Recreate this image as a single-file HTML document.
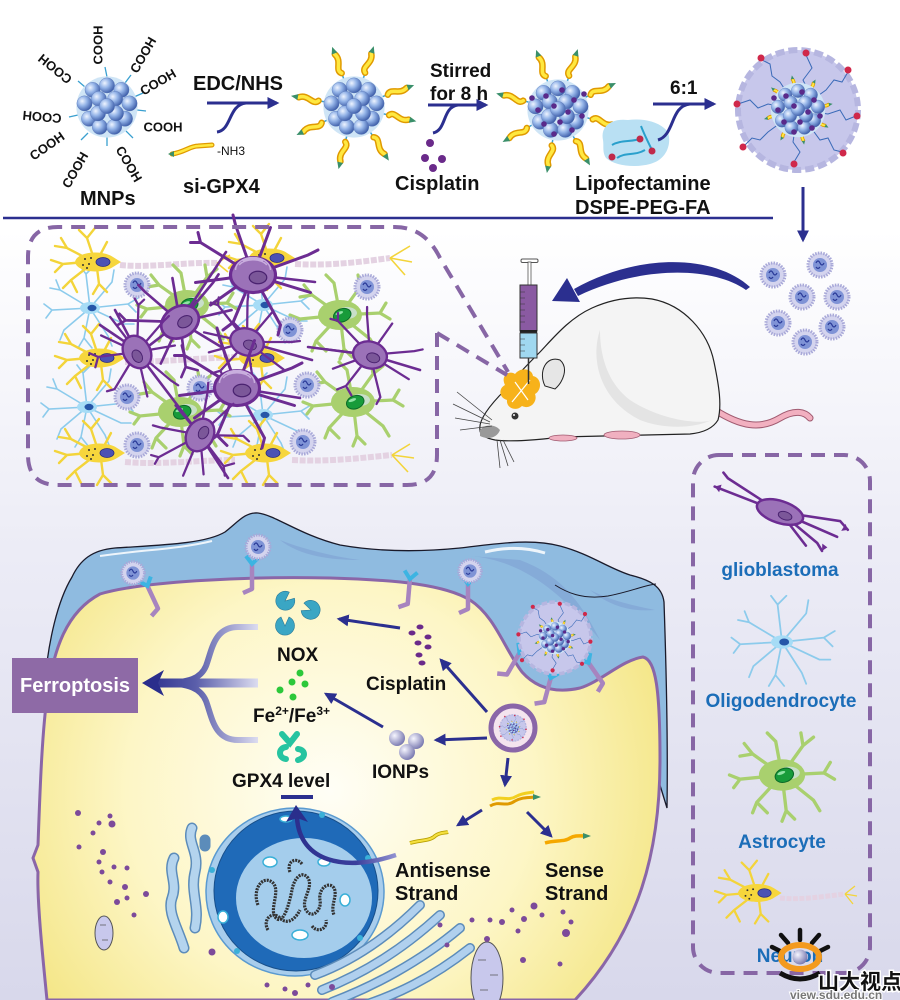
<!DOCTYPE html>
<html><head><meta charset="utf-8"><style>
html,body{margin:0;padding:0;background:#fff}
svg{display:block}
text{font-family:"Liberation Sans",Arial,sans-serif;font-weight:bold}
</style></head><body>
<svg width="900" height="1000" viewBox="0 0 900 1000" xmlns="http://www.w3.org/2000/svg" xmlns:xlink="http://www.w3.org/1999/xlink">
<defs>
 <linearGradient id="bg" x1="0" y1="0" x2="0" y2="1">
  <stop offset="0" stop-color="#fff"/><stop offset=".23" stop-color="#fff"/><stop offset=".55" stop-color="#ececf6"/><stop offset="1" stop-color="#d8d8eb"/>
 </linearGradient>
 <radialGradient id="sph" cx=".35" cy=".35" r=".7"><stop offset="0" stop-color="#eef4ff"/><stop offset=".45" stop-color="#94b4e8"/><stop offset="1" stop-color="#3a5aa6"/></radialGradient>
 <radialGradient id="cyto" cx="330" cy="790" r="370" gradientUnits="userSpaceOnUse"><stop offset="0" stop-color="#fffef6"/><stop offset=".55" stop-color="#fdf6c6"/><stop offset="1" stop-color="#f3e47f"/></radialGradient>
 <radialGradient id="ion" cx=".35" cy=".35" r=".7"><stop offset="0" stop-color="#f6f6ff"/><stop offset="1" stop-color="#7676ae"/></radialGradient>
 <linearGradient id="fork" x1="145" y1="0" x2="258" y2="0" gradientUnits="userSpaceOnUse"><stop offset="0" stop-color="#2a2e8c"/><stop offset=".45" stop-color="#5a5eaa"/><stop offset="1" stop-color="#dcdcf0"/></linearGradient>
 <linearGradient id="curv" x1="400" y1="0" x2="290" y2="0" gradientUnits="userSpaceOnUse"><stop offset="0" stop-color="#9a9ad6"/><stop offset=".4" stop-color="#3a3e9c"/><stop offset="1" stop-color="#2a2e8c"/></linearGradient>
 <marker id="ah" viewBox="0 0 10 10" refX="8" refY="5" markerWidth="4" markerHeight="4" orient="auto"><path d="M0 0 L10 5 L0 10 z" fill="#2b2f8f"/></marker>

 <g id="core">
  <circle r="34" fill="#cfe5f6"/>
  <g fill="url(#sph)" stroke="#5a78b8" stroke-width=".4">
   <circle cx="-16" cy="-19" r="8.5"/><circle cx="0" cy="-24" r="8.5"/><circle cx="16" cy="-19" r="8.5"/>
   <circle cx="-25" cy="-4" r="8.5"/><circle cx="25" cy="-4" r="8.5"/>
   <circle cx="-20" cy="13" r="8.5"/><circle cx="20" cy="13" r="8.5"/>
   <circle cx="-8" cy="22" r="8.5"/><circle cx="8" cy="22" r="8.5"/>
   <circle cx="-9" cy="-9" r="8.5"/><circle cx="9" cy="-9" r="8.5"/>
   <circle cx="-10" cy="7" r="8.5"/><circle cx="10" cy="7" r="8.5"/><circle cx="0" cy="-1" r="8.5"/>
  </g>
 </g>
 <g id="tail">
  <path d="M28 0 L36 0" stroke="#3a9fd0" stroke-width="1.5"/>
  <path d="M36 0 C41 -6 47 5 56 0" stroke="#e09a00" stroke-width="6.5" fill="none" stroke-linecap="round"/>
  <path d="M36 0 C41 -6 47 5 56 0" stroke="#ffe840" stroke-width="3.5" fill="none" stroke-linecap="round"/>
  <path d="M57 -3 L64 0 L57 3 Z" fill="#3a8f6a"/>
 </g>
 <g id="np">
  <circle r="12" fill="#d4d4ee" stroke="#a8a8d8" stroke-width="3" stroke-dasharray="1.5 1.2"/>
  <circle r="7" fill="#7f93d6"/>
  <path d="M-4 -2 q2 -4 4 0 q2 4 4 0 M-4 2 q2 3 4 0" stroke="#2a3a98" stroke-width="1.2" fill="none"/>
 </g>
 <g id="neu">
  <g stroke="#f3d43a" stroke-width="2.4" fill="none" stroke-linecap="round">
   <path d="M-5 -3 L-26 -14 L-38 -16 M-26 -14 L-32 -24 M-8 0 L-30 2 L-42 -2 M-30 2 L-38 10 M-4 4 L-22 18 L-30 26 M-22 18 L-16 30 M0 -6 L-6 -24 L-14 -32 M-6 -24 L2 -34 M4 6 L6 22 L0 32 M6 22 L14 30 M6 -5 L14 -20"/>
  </g>
  <path d="M-18 0 C-16 -11 10 -12 20 -5 L28 0 L20 5 C10 12 -16 11 -18 0 Z" fill="#f6d63c"/>
  <ellipse cx="10" cy="0" rx="7" ry="4.5" fill="#4b52b4" stroke="#262a80" stroke-width=".8"/>
  <g fill="#333"><circle cx="-8" cy="-3" r="1"/><circle cx="-4" cy="2" r="1"/><circle cx="-10" cy="3" r="1"/><circle cx="-2" cy="-4" r="1"/><circle cx="-6" cy="6" r="1"/></g>
 </g>
 <g id="oli">
  <g stroke="#8ccbec" stroke-width="1.6" fill="none" stroke-linecap="round">
   <path d="M0 0 L-30 -18 L-40 -20 M-30 -18 L-34 -28 M0 0 L-38 2 L-46 -4 M-38 2 L-44 10 M0 0 L-26 22 L-30 32 M0 0 L-6 30 L-12 40 M-6 30 L2 40 M0 0 L18 28 L22 38 M0 0 L34 16 L44 16 M0 0 L38 -4 L48 -10 M38 -4 L46 4 M0 0 L22 -26 L24 -38 M0 0 L-4 -34 L-10 -42 M-4 -34 L4 -42"/>
  </g>
  <ellipse rx="10" ry="6" fill="#a6dcf6"/><ellipse cx="2" rx="4.5" ry="3.2" fill="#2656a8"/>
 </g>
 <g id="ast">
  <g stroke="#a9d06e" stroke-width="3.2" fill="none" stroke-linecap="round">
   <path d="M0 0 L-28 -20 L-36 -30 M-28 -20 L-40 -18 M0 0 L-40 4 L-50 0 M-40 4 L-46 12 M0 0 L-24 26 L-28 36 M-24 26 L-14 36 M0 0 L4 34 L0 44 M4 34 L12 42 M0 0 L30 24 L36 34 M0 0 L40 -2 L50 4 M40 -2 L46 -12 M0 0 L20 -28 L18 -40 M20 -28 L30 -36 M0 0 L-6 -32 L-14 -40"/>
  </g>
  <ellipse rx="22" ry="15" fill="#a9d06e"/>
  <ellipse cx="7" cy="-2" rx="10" ry="6" fill="#d6e6f0" opacity=".7"/>
  <ellipse cx="2" cy="1" rx="9" ry="6.5" fill="#179b3a" stroke="#0b6a28" stroke-width="1" transform="rotate(-20)"/>
  <ellipse cx="0" cy="-2" rx="4" ry="1.5" fill="#8fe2a4" transform="rotate(-20)"/>
 </g>
 <g id="gli">
  <g stroke="#6c2c92" stroke-width="2.4" fill="none" stroke-linecap="round">
   <path d="M0 0 L-42 -26 M-42 -26 L-50 -26 M-42 -26 L-44 -34 M0 0 L-46 6 M0 0 L-14 -40 L-16 -48 M0 0 L14 -38 M0 0 L44 -16 L52 -20 M0 0 L46 14 M0 0 L22 40 L20 48 M0 0 L-16 38 M-16 38 L-24 44 M-16 38 L-8 46 M0 0 L-34 24"/>
  </g>
  <ellipse rx="18" ry="14" fill="#9b72b8" stroke="#6c2c92" stroke-width="2.5"/>
  <ellipse cx="4" cy="2" rx="7" ry="5" fill="#7b5799" stroke="#4a2270"/>
 </g>
 <g id="rings" fill="none" stroke="#c9aede" stroke-width="1.2">
  <path d="M-14 -4 A14 10 0 0 1 14 -4 M-11 -8 A12 7 0 0 1 11 -8 M-8 -11 A9 4 0 0 1 8 -11"/>
 </g>
 <g id="rec">
  <path d="M0 0 L0 26 L-9 30" stroke="#a784bf" stroke-width="4.5" fill="none" stroke-linejoin="round"/>
  <path d="M-6 -7 L0 1 L7 -6" stroke="#3cb4e2" stroke-width="4" fill="none"/>
 </g>
 <g id="bignp">
  <circle r="60" fill="#c7c7eb" stroke="#b6b6e0" stroke-width="6" stroke-dasharray="9 4"/>
  <g stroke="#3a6ab8" stroke-width="1" fill="none">
   <path d="M0 0 L10 -20 L5 -30 L14 -42 L8 -55 M0 0 L28 -20 L36 -30 L44 -28 L50 -38 M0 0 L30 4 L42 0 L48 10 L58 6 M0 0 L22 30 L30 28 L36 40 L44 42 M0 0 L-5 32 L2 42 L-4 52 M0 0 L-30 22 L-38 30 L-46 28 L-54 36 M0 0 L-30 -6 L-40 -2 L-48 -10 L-60 -6 M0 0 L-18 -28 L-26 -34 L-28 -46 L-36 -50"/>
  </g>
  <g fill="#d0284a"><circle cx="8" cy="-57" r="3.5"/><circle cx="50" cy="-40" r="3.5"/><circle cx="59" cy="6" r="3.5"/><circle cx="45" cy="43" r="3.5"/><circle cx="-4" cy="54" r="3.5"/><circle cx="-55" cy="37" r="3.5"/><circle cx="-61" cy="-6" r="3.5"/><circle cx="-37" cy="-52" r="3.5"/></g>
  <g transform="scale(.55)"><g transform="rotate(-60)"><use xlink:href="#tail"/></g><g transform="rotate(-10)"><use xlink:href="#tail"/></g><g transform="rotate(30)"><use xlink:href="#tail"/></g><g transform="rotate(80)"><use xlink:href="#tail"/></g><g transform="rotate(120)"><use xlink:href="#tail"/></g><g transform="rotate(165)"><use xlink:href="#tail"/></g><g transform="rotate(-140)"><use xlink:href="#tail"/></g><g transform="rotate(-100)"><use xlink:href="#tail"/></g></g>
  <g transform="scale(.8)"><use xlink:href="#core"/></g>
  <g fill="#5a2a8a"><circle cx="-12" cy="-14" r="2.8"/><circle cx="4" cy="-18" r="2.8"/><circle cx="16" cy="-10" r="2.8"/><circle cx="-20" cy="0" r="2.8"/><circle cx="-4" cy="-4" r="2.8"/><circle cx="10" cy="2" r="2.8"/><circle cx="22" cy="6" r="2.8"/><circle cx="-14" cy="12" r="2.8"/><circle cx="2" cy="12" r="2.8"/><circle cx="14" cy="18" r="2.8"/><circle cx="-4" cy="22" r="2.8"/><circle cx="-24" cy="-12" r="2.8"/></g>
 </g>
</defs>

<rect width="900" height="1000" fill="url(#bg)"/>

<!-- ============ TOP ROW ============ -->
<g stroke="#3aa0d0" stroke-width="1.3" fill="none">
 <path d="M107 77 l-2 -10 M125 83 l6 -8 M134 97 l9 -4 M137 110 l9 1 M126 131 l7 7 M107 137 l0 9 M88 133 l-7 7 M78 115 l-9 2 M85 87 l-7 -6"/>
</g>
<use xlink:href="#core" transform="translate(107,107) scale(.9)"/>
<g font-size="13" fill="#111" text-anchor="middle">
 <text transform="translate(98,45) rotate(-90)" dy=".35em">COOH</text>
 <text transform="translate(143,55) rotate(-60)" dy=".35em">COOH</text>
 <text transform="translate(158,82) rotate(-30)" dy=".35em">COOH</text>
 <text transform="translate(163,127)" dy=".35em">COOH</text>
 <text transform="translate(129,164) rotate(60)" dy=".35em">COOH</text>
 <text transform="translate(75,170) rotate(-60)" dy=".35em">COOH</text>
 <text transform="translate(47,146) rotate(-35)" dy=".35em">COOH</text>
 <text transform="translate(42,117) rotate(185)" dy=".35em">COOH</text>
 <text transform="translate(55,69) rotate(-141)" dy=".35em">COOH</text>
</g>
<text x="80" y="205" font-size="20" fill="#111">MNPs</text>

<text x="193" y="90" font-size="20" fill="#111">EDC/NHS</text>
<path d="M207 103 L277 103" stroke="#2b2f8f" stroke-width="3" marker-end="url(#ah)"/>
<path d="M217 132 C232 130 228 105 246 103" stroke="#2b2f8f" stroke-width="3" fill="none"/>
<path d="M172 154 C185 152 190 146 198 146 L212 145" stroke="#e09a00" stroke-width="5" fill="none" stroke-linecap="round"/>
<path d="M172 154 C185 152 190 146 198 146 L212 145" stroke="#ffe840" stroke-width="2.6" fill="none" stroke-linecap="round"/>
<path d="M168 154 l6 -3 l0 6z" fill="#3a8f6a"/>
<text x="217" y="155" font-size="12" fill="#111" style="font-weight:normal">-NH3</text>
<text x="183" y="193" font-size="20" fill="#111">si-GPX4</text>

<g transform="translate(354,107)">
 <use xlink:href="#tail" transform="rotate(-110)"/><use xlink:href="#tail" transform="rotate(-72)"/><use xlink:href="#tail" transform="rotate(-20)"/><use xlink:href="#tail" transform="rotate(13)"/><use xlink:href="#tail" transform="rotate(57)"/><use xlink:href="#tail" transform="rotate(104)"/><use xlink:href="#tail" transform="rotate(154)"/><use xlink:href="#tail" transform="rotate(-170)"/>
 <use xlink:href="#core" transform="scale(.9)"/>
</g>

<text x="430" y="77" font-size="19" fill="#111">Stirred</text>
<text x="430" y="100" font-size="19" fill="#111">for 8 h</text>
<path d="M428 105 L486 105" stroke="#2b2f8f" stroke-width="3" marker-end="url(#ah)"/>
<path d="M433 133 C447 130 442 107 458 105" stroke="#2b2f8f" stroke-width="3" fill="none"/>
<g fill="#6a2a8a"><circle cx="430" cy="143" r="4"/><circle cx="425" cy="158" r="4"/><circle cx="442" cy="159" r="4"/><circle cx="433" cy="168" r="4"/></g>
<text x="395" y="190" font-size="20" fill="#111">Cisplatin</text>

<g transform="translate(558,110)">
 <use xlink:href="#tail" transform="rotate(-110)"/><use xlink:href="#tail" transform="rotate(-72)"/><use xlink:href="#tail" transform="rotate(-25)"/><use xlink:href="#tail" transform="rotate(15)"/><use xlink:href="#tail" transform="rotate(60)"/><use xlink:href="#tail" transform="rotate(100)"/><use xlink:href="#tail" transform="rotate(150)"/><use xlink:href="#tail" transform="rotate(-165)"/>
 <use xlink:href="#core" transform="scale(.9)"/>
 <g fill="#5a2a8a"><circle cx="-12" cy="-14" r="2.8"/><circle cx="4" cy="-20" r="2.8"/><circle cx="16" cy="-10" r="2.8"/><circle cx="-20" cy="0" r="2.8"/><circle cx="-4" cy="-4" r="2.8"/><circle cx="10" cy="2" r="2.8"/><circle cx="24" cy="6" r="2.8"/><circle cx="-14" cy="14" r="2.8"/><circle cx="2" cy="12" r="2.8"/><circle cx="14" cy="20" r="2.8"/><circle cx="-4" cy="24" r="2.8"/><circle cx="-26" cy="-12" r="2.8"/><circle cx="26" cy="-16" r="2.8"/></g>
</g>

<path d="M603 140 C600 126 612 118 628 120 C645 118 660 122 668 132 C672 145 666 160 650 164 C635 168 615 166 606 158 C602 152 604 146 603 140 Z" fill="#b9e0f3"/>
<g stroke="#2aa0cc" stroke-width="2" fill="none"><path d="M612 145 C620 140 630 142 640 139 M617 158 C625 152 635 156 645 150 M641 126 C644 134 648 142 652 150"/></g>
<g fill="#c02a4a"><circle cx="640" cy="139" r="3.5"/><circle cx="612" cy="157" r="3.5"/><circle cx="652" cy="151" r="3.5"/></g>
<text x="670" y="94" font-size="19" fill="#111">6:1</text>
<path d="M653 104 L714 104" stroke="#2b2f8f" stroke-width="3" marker-end="url(#ah)"/>
<path d="M658 140 C675 135 670 106 690 104" stroke="#2b2f8f" stroke-width="3" fill="none"/>
<text x="575" y="190" font-size="20" fill="#111">Lipofectamine</text>
<text x="575" y="214" font-size="20" fill="#111">DSPE-PEG-FA</text>

<use xlink:href="#bignp" transform="translate(798,110)"/>

<path d="M3 218 L773 218" stroke="#2b2f8f" stroke-width="2.5"/>
<path d="M803 187 L803 240" stroke="#2b2f8f" stroke-width="3" marker-end="url(#ah)"/>

<!-- ============ MIDDLE ============ -->
<use xlink:href="#np" transform="translate(773,275)"/><use xlink:href="#np" transform="translate(820,265)"/><use xlink:href="#np" transform="translate(802,297)"/><use xlink:href="#np" transform="translate(837,297)"/><use xlink:href="#np" transform="translate(778,323)"/><use xlink:href="#np" transform="translate(832,327)"/><use xlink:href="#np" transform="translate(805,342)"/>

<path d="M750 287 C715 255 640 252 574 289 L578 296 C640 266 712 266 746 290 Z" fill="#2b2f8f"/>
<path d="M552 301 L567 278 L580 302 Z" fill="#2b2f8f"/>

<!-- mouse -->
<path d="M715 410 C740 426 760 430 780 418 C795 409 805 412 810 418" stroke="#a05a70" stroke-width="7" fill="none" stroke-linecap="round"/>
<path d="M715 410 C740 426 760 430 780 418 C795 409 805 412 810 418" stroke="#f2b0c0" stroke-width="5" fill="none" stroke-linecap="round"/>
<path d="M480 430 C478 420 490 405 505 390 C515 377 528 364 540 352 C555 336 570 318 592 308 C612 299 632 296 652 299 C684 305 708 332 714 362 C719 386 722 405 718 420 C712 430 700 433 690 434 L560 437 C540 440 510 442 495 440 C485 438 480 435 480 430 Z" fill="#f4f4f4" stroke="#222" stroke-width="1.2"/>
<path d="M600 330 C590 360 600 400 640 420 C660 428 690 430 712 420 C700 425 660 420 630 400 C610 385 600 360 600 330 Z" fill="#e4e4e4"/>
<path d="M480 430 C485 424 495 424 500 430 C497 438 488 440 480 436 Z" fill="#999"/>
<circle cx="515" cy="416" r="3.5" fill="#333"/><circle cx="514" cy="415" r="1" fill="#fff"/>
<path d="M545 386 C538 372 546 355 560 360 C569 368 563 382 555 389 Z" fill="#e6e6e6" stroke="#222" stroke-width="1"/>
<ellipse cx="622" cy="435" rx="18" ry="4" fill="#f0b0c0" stroke="#a05a70" stroke-width=".8"/>
<ellipse cx="563" cy="438" rx="14" ry="3" fill="#f0b0c0" stroke="#a05a70" stroke-width=".8"/>
<g stroke="#444" stroke-width=".8" fill="none"><path d="M492 420 L457 392 M490 422 L453 404 M490 424 L455 418 M492 426 L460 430 M497 440 L500 468 M500 440 L508 466 M503 440 L514 462"/></g>
<path d="M505 385 C500 375 510 370 515 374 C520 367 532 368 533 376 C542 378 542 390 535 394 C538 402 530 410 522 406 C516 412 506 408 507 400 C498 397 499 388 505 385 Z" fill="#f7b21a"/>
<path d="M512 402 L530 380 M515 382 L528 400" stroke="#fff" stroke-width="1.2"/>
<rect x="521" y="259" width="17" height="3.5" rx="1.5" fill="#fff" stroke="#555"/>
<rect x="528" y="262" width="3" height="24" fill="#fff" stroke="#555" stroke-width=".8"/>
<rect x="520" y="285" width="17" height="46" fill="#8a5aa2" stroke="#333"/>
<rect x="520" y="330" width="17" height="3" fill="#222"/>
<rect x="520" y="333" width="17" height="25" fill="#a0d8f0" stroke="#333"/>
<g stroke="#333" stroke-width=".6"><path d="M520 292 h5 M520 298 h5 M520 304 h5 M520 310 h5 M520 316 h5 M520 322 h5 M520 339 h5 M520 345 h5 M520 351 h5"/></g>
<path d="M528.5 358 L528.5 384" stroke="#333" stroke-width="1.5"/>

<!-- dashed box with cells -->
<g>
 <g stroke="#e4d2e2" stroke-width="6" stroke-dasharray="6 1.6" fill="none">
  <path d="M120 265 C150 268 185 262 217 263"/>
  <path d="M295 264 C330 266 360 262 390 258"/>
  <path d="M125 362 C160 362 200 358 240 357"/>
  <path d="M125 462 C160 465 200 460 235 460"/>
  <path d="M292 460 C330 462 360 458 392 455"/>
 </g>
 <g stroke="#f3d43a" stroke-width="1.6" fill="none"><path d="M390 258 L410 246 M390 258 L412 262 M390 258 L405 275 M392 455 L410 444 M392 455 L414 458 M392 455 L408 472 M217 263 L230 255 M217 263 L228 272"/></g>
 <use xlink:href="#oli" transform="translate(90,308)"/>
 <use xlink:href="#oli" transform="translate(87,407)"/>
 <use xlink:href="#oli" transform="translate(263,305)"/>
 <use xlink:href="#oli" transform="translate(263,415)"/>
 <use xlink:href="#ast" transform="translate(187,305)"/>
 <use xlink:href="#ast" transform="translate(340,315)"/>
 <use xlink:href="#ast" transform="translate(353,402)"/>
 <use xlink:href="#ast" transform="translate(180,412)"/>
 <use xlink:href="#neu" transform="translate(93,262)"/>
 <use xlink:href="#neu" transform="translate(97,358)"/>
 <use xlink:href="#neu" transform="translate(97,453)"/>
 <use xlink:href="#neu" transform="translate(267,258)"/>
 <use xlink:href="#neu" transform="translate(257,358)"/>
 <use xlink:href="#neu" transform="translate(263,453)"/>
 <use xlink:href="#np" transform="translate(137,285)"/><use xlink:href="#np" transform="translate(367,287)"/><use xlink:href="#np" transform="translate(290,330)"/><use xlink:href="#np" transform="translate(127,397)"/><use xlink:href="#np" transform="translate(200,388)"/><use xlink:href="#np" transform="translate(307,385)"/><use xlink:href="#np" transform="translate(137,445)"/><use xlink:href="#np" transform="translate(303,442)"/>
 <g stroke="#6c2c92" stroke-width="2.6" fill="none" stroke-linecap="round">
  <path d="M137 352 L200 435 M180 322 L226 252 M247 342 L312 360 M370 355 L308 347 M370 355 L420 370 M137 352 L115 310 M200 435 L228 478 M237 388 L300 398 M253 275 L315 282 M140 352 L100 325"/>
 </g>
 <use xlink:href="#gli" transform="translate(180,322) rotate(-30) scale(1.1)"/>
 <use xlink:href="#gli" transform="translate(137,352) rotate(60) scale(.95)"/>
 <use xlink:href="#gli" transform="translate(253,275) scale(1.25)"/><use xlink:href="#rings" transform="translate(253,275) scale(1.25)"/>
 <use xlink:href="#gli" transform="translate(247,342) rotate(20) scale(.95)"/>
 <use xlink:href="#gli" transform="translate(237,388) scale(1.25)"/><use xlink:href="#rings" transform="translate(237,388) scale(1.25)"/>
 <use xlink:href="#gli" transform="translate(370,355) rotate(15) scale(.95)"/>
 <use xlink:href="#gli" transform="translate(200,435) rotate(-60) scale(.95)"/>
</g>
<g stroke="#8766a5" stroke-width="4" stroke-dasharray="14 9" fill="none">
 <path d="M437 333 L437 455 Q437 485 407 485 L58 485 Q28 485 28 455 L28 257 Q28 227 58 227 L395 227 Q425 227 440 258 L508 372"/>
 <path d="M437 333 L507 375"/>
 <rect x="693" y="455" width="177" height="518" rx="26"/>
</g>

<!-- ============ BOTTOM CELL ============ -->
<path d="M44 690 C48 640 58 600 72 577 C80 560 92 550 115 548 C160 545 205 544 225 532 C238 522 245 512 258 513 C275 515 300 535 340 545 C380 552 420 552 460 548 C495 544 530 538 560 546 C590 554 608 568 630 575 C650 580 662 586 664 602 C666 660 668 740 667 808 L640 720 L300 700 Z" fill="#8fbbe0" stroke="#1a1a2a" stroke-width="1.3"/>
<g fill="#7e9ed2" opacity=".55"><path d="M470 556 C520 560 560 590 600 640 C580 600 560 575 520 560 Z"/><path d="M280 540 C300 548 330 556 360 560 C330 560 300 556 280 540 Z"/><path d="M590 590 C610 600 630 605 655 610 C630 612 610 606 590 590 Z"/></g>
<path d="M100 556 C140 550 180 549 212 541" stroke="#fff" stroke-width="2" fill="none" opacity=".85"/>
<path d="M485 552 C505 547 525 547 545 553" stroke="#fff" stroke-width="3" fill="none" opacity=".85"/>
<path d="M555 585 C566 592 582 600 608 596 C630 592 645 585 656 584" stroke="#1a1a2a" stroke-width="1" fill="none"/>
<path d="M47 1000 C42 950 37 900 38 872 L33 858 L38 845 C40 790 42 730 48 690 C54 650 66 612 100 594 C140 582 240 576 330 578 C400 580 445 585 470 600 C495 616 505 650 522 672 C538 690 558 693 580 688 C602 681 622 660 643 657 C656 660 660 690 660 760 C660 850 640 930 575 1000 Z" fill="url(#cyto)" stroke="#8a66a8" stroke-width="3"/>

<use xlink:href="#rec" transform="translate(147,585) rotate(-25)"/>
<use xlink:href="#rec" transform="translate(252,563)"/>
<use xlink:href="#rec" transform="translate(410,578) rotate(5)"/>
<use xlink:href="#rec" transform="translate(468,583)"/>
<use xlink:href="#rec" transform="translate(520,652) rotate(30)"/>
<use xlink:href="#rec" transform="translate(551,677) rotate(15)"/>
<use xlink:href="#rec" transform="translate(588,662) rotate(-35)"/>
<use xlink:href="#np" transform="translate(133,573) scale(.95)"/>
<use xlink:href="#np" transform="translate(258,547)"/>
<use xlink:href="#np" transform="translate(470,571) scale(.95)"/>
<use xlink:href="#bignp" transform="translate(555,638) scale(.6)"/>

<circle cx="513" cy="728" r="22" fill="#f4e4ee" stroke="#8a66a8" stroke-width="5"/>
<use xlink:href="#bignp" transform="translate(513,728) scale(.22)"/>

<g fill="#3aa6c4" stroke="#2a7a98" stroke-width=".6">
 <path d="M285 601 L294 597 A9.5 9.5 0 1 0 294 605 Z" transform="rotate(-40 285 601)"/>
 <path d="M311 610 L320 606 A9.5 9.5 0 1 0 320 614 Z" transform="rotate(200 311 610)"/>
 <path d="M285 626 L294 622 A9.5 9.5 0 1 0 294 630 Z" transform="rotate(-90 285 626)"/>
</g>
<text x="277" y="661" font-size="19" fill="#111">NOX</text>
<g fill="#2cc83a"><circle cx="300" cy="673" r="3.5"/><circle cx="292" cy="682" r="3.5"/><circle cx="305" cy="684" r="3.5"/><circle cx="280" cy="690" r="3.5"/><circle cx="293" cy="697" r="3.5"/></g>
<text x="253" y="722" font-size="19" fill="#111">Fe<tspan font-size="12" dy="-7">2+</tspan><tspan dy="7">/Fe</tspan><tspan font-size="12" dy="-7">3+</tspan></text>
<g stroke="#26c4a0" stroke-width="6" fill="none" stroke-linecap="round">
 <path d="M282 734 L290 743 L297 734"/>
 <path d="M286 747 C278 748 278 758 286 759"/>
 <path d="M298 749 C306 750 306 758 298 760"/>
</g>
<text x="232" y="787" font-size="19" fill="#111">GPX4 level</text>
<path d="M281 797 L313 797" stroke="#2b2f8f" stroke-width="4"/>

<g stroke="url(#fork)" fill="none" stroke-linecap="butt">
 <path d="M258 627 L238 627 C214 627 212 650 206 666 C201 678 190 683 160 683" stroke-width="6"/>
 <path d="M258 740 L238 740 C214 740 212 717 206 701 C201 689 190 683 160 683" stroke-width="6"/>
 <path d="M258 683 L158 683" stroke-width="9"/>
</g>
<path d="M142 683 L164 670 L158 683 L164 696 Z" fill="#2a2e8c"/>
<rect x="12" y="658" width="126" height="55" fill="#8e6aa6"/>
<text x="75" y="692" font-size="20" fill="#fff" text-anchor="middle">Ferroptosis</text>

<g fill="#6a2a8a"><ellipse cx="420" cy="627" rx="3.5" ry="2.5"/><ellipse cx="412" cy="633" rx="3.5" ry="2.5"/><ellipse cx="428" cy="637" rx="3.5" ry="2.5"/><ellipse cx="418" cy="643" rx="3.5" ry="2.5"/><ellipse cx="428" cy="647" rx="3.5" ry="2.5"/><ellipse cx="419" cy="655" rx="3.5" ry="2.5"/><ellipse cx="422" cy="663" rx="3.5" ry="2.5"/></g>
<text x="366" y="690" font-size="19" fill="#111">Cisplatin</text>
<g fill="url(#ion)"><circle cx="397" cy="738" r="8"/><circle cx="416" cy="741" r="8"/><circle cx="407" cy="752" r="8"/></g>
<text x="372" y="778" font-size="19" fill="#111">IONPs</text>

<g stroke="#2b2f8f" stroke-width="3" fill="none" marker-end="url(#ah)">
 <path d="M400 628 L339 619"/>
 <path d="M487 712 L441 660"/>
 <path d="M383 727 L326 694"/>
 <path d="M487 738 L436 740"/>
 <path d="M508 758 L505 785"/>
 <path d="M482 810 L458 825"/>
 <path d="M527 812 L551 836"/>
</g>

<path d="M490 806 C500 800 505 808 515 801 C522 797 528 798 535 797" stroke="#e09a00" stroke-width="3" fill="none"/>
<path d="M492 800 C502 795 507 802 517 796 C522 793 528 793 534 792" stroke="#f2d020" stroke-width="3" fill="none"/>
<path d="M533 794 l8 3 l-8 3z" fill="#3a8f6a"/>
<path d="M410 843 C420 840 430 841 435 836 C440 832 445 833 448 832" stroke="#b8a000" stroke-width="4" fill="none"/>
<path d="M410 843 C420 840 430 841 435 836 C440 832 445 833 448 832" stroke="#f5e040" stroke-width="2.2" fill="none"/>
<path d="M545 843 C555 840 565 842 570 838 C575 835 580 836 585 836" stroke="#f5a800" stroke-width="3.5" fill="none"/>
<path d="M583 833 l8 3 l-8 3z" fill="#3a8f6a"/>
<text x="395" y="877" font-size="20" fill="#111">Antisense</text>
<text x="395" y="900" font-size="20" fill="#111">Strand</text>
<text x="545" y="877" font-size="20" fill="#111">Sense</text>
<text x="545" y="900" font-size="20" fill="#111">Strand</text>

<g fill="none" stroke-linecap="round">
 <g stroke="#5c8cba" stroke-width="11"><path d="M192 828 C186 842 200 852 195 872 C190 892 200 906 195 928"/><path d="M174 858 C167 872 178 882 172 898 C167 912 178 928 184 948"/><path d="M205 840 L205 846"/></g>
 <g stroke="#b4d4ee" stroke-width="8"><path d="M192 828 C186 842 200 852 195 872 C190 892 200 906 195 928"/><path d="M174 858 C167 872 178 882 172 898 C167 912 178 928 184 948"/></g>
</g>
<ellipse cx="295" cy="892" rx="89" ry="84" fill="#a8cdec" stroke="#5a9ad0" stroke-width="1.5"/>
<ellipse cx="296" cy="891" rx="82" ry="80" fill="#1f6ab8" stroke="#184f8a" stroke-width="1"/>
<ellipse cx="304" cy="898" rx="68" ry="60" fill="#a4cdec"/>
<g fill="#fff" stroke="#3ab0d8" stroke-width="1.5"><ellipse cx="270" cy="862" rx="7" ry="5"/><ellipse cx="324" cy="862" rx="6" ry="4"/><ellipse cx="345" cy="900" rx="5" ry="6"/><ellipse cx="300" cy="935" rx="8" ry="5"/><ellipse cx="223" cy="917" rx="5" ry="6"/><ellipse cx="286" cy="819" rx="6" ry="3"/></g>
<g fill="#3ab0d8"><circle cx="212" cy="870" r="3"/><circle cx="237" cy="951" r="3"/><circle cx="322" cy="815" r="3"/><circle cx="368" cy="858" r="3"/><circle cx="360" cy="938" r="3"/></g>
<g stroke="#333" stroke-width="3.2" stroke-dasharray="2 1" fill="none">
 <path d="M258 905 C252 890 262 875 272 882 C282 890 268 910 276 918 C284 926 290 900 292 890 C294 878 302 870 308 878 C314 888 300 900 306 910 C312 920 322 910 320 900 C318 890 328 880 334 888 C338 896 330 905 334 915"/>
 <path d="M268 930 C262 920 272 910 280 918 C288 926 296 918 300 910 M290 872 C286 862 296 856 302 864 M312 926 C318 934 328 928 326 920"/>
</g>
<g fill="none" stroke-linecap="round">
 <g stroke="#5c8cba" stroke-width="10"><path d="M315 975 C350 962 385 940 420 905"/><path d="M322 990 C360 975 400 952 440 915"/><path d="M332 1002 C372 987 420 962 460 928"/><path d="M355 1008 C395 996 432 978 470 948"/></g>
 <g stroke="#b0d0ee" stroke-width="7"><path d="M315 975 C350 962 385 940 420 905"/><path d="M322 990 C360 975 400 952 440 915"/><path d="M332 1002 C372 987 420 962 460 928"/><path d="M355 1008 C395 996 432 978 470 948"/></g>
</g>
<ellipse cx="104" cy="933" rx="9" ry="17" fill="#c8c8ec" stroke="#555" stroke-width="1"/>
<ellipse cx="487" cy="978" rx="16" ry="36" fill="#c8c8ec" stroke="#555" stroke-width="1"/>
<g stroke="#555" stroke-width=".8"><path d="M100 925 h6 M102 940 h6 M478 960 h8 M490 975 h8 M480 990 h8"/></g>
<g fill="#7c4a9a">
 <circle cx="78" cy="813" r="3"/><circle cx="99" cy="823" r="2.5"/><circle cx="110" cy="816" r="2.5"/><circle cx="112" cy="824" r="3.5"/><circle cx="93" cy="833" r="2.5"/><circle cx="79" cy="847" r="2.5"/><circle cx="103" cy="852" r="3"/><circle cx="99" cy="862" r="2.5"/><circle cx="114" cy="867" r="2.5"/><circle cx="127" cy="868" r="2.5"/><circle cx="102" cy="872" r="2.5"/><circle cx="110" cy="882" r="2.5"/><circle cx="125" cy="887" r="3"/><circle cx="146" cy="894" r="3"/><circle cx="127" cy="898" r="2.5"/><circle cx="117" cy="902" r="3"/><circle cx="134" cy="915" r="2.5"/><circle cx="212" cy="952" r="3.5"/>
 <circle cx="472" cy="920" r="2.5"/><circle cx="490" cy="920" r="2.5"/><circle cx="502" cy="922" r="3"/><circle cx="512" cy="910" r="2.5"/><circle cx="524" cy="919" r="3"/><circle cx="534" cy="906" r="3.5"/><circle cx="542" cy="915" r="2.5"/><circle cx="563" cy="912" r="2.5"/><circle cx="571" cy="922" r="2.5"/><circle cx="518" cy="931" r="2.5"/><circle cx="566" cy="933" r="4"/><circle cx="487" cy="939" r="3"/><circle cx="523" cy="960" r="3"/><circle cx="560" cy="964" r="2.5"/><circle cx="440" cy="925" r="2.5"/><circle cx="447" cy="945" r="2.5"/>
 <circle cx="267" cy="985" r="2.5"/><circle cx="285" cy="989" r="2.5"/><circle cx="295" cy="993" r="3"/><circle cx="308" cy="985" r="2.5"/><circle cx="332" cy="987" r="3"/>
</g>
<path d="M396 855 C345 872 300 862 297 818" stroke="url(#curv)" stroke-width="4.5" fill="none"/>
<path d="M296 805 L286 822 L297 818 L308 822 Z" fill="#2a2e8c"/>

<!-- ============ LEGEND ============ -->
<g transform="translate(780,512) rotate(18)">
 <g stroke="#6c2c92" stroke-width="2.6" fill="none" stroke-linecap="round">
  <path d="M0 0 L-70 -4 M0 0 L-60 -16 L-66 -20 M0 0 L60 -10 L70 -4 M0 0 L62 6 M0 0 L45 18 L52 24 M0 0 L35 24"/>
 </g>
 <path d="M-70 -4 l6 -4 l0 8z M70 -4 l-4 -5 l-2 8z M52 24 l-2 -7 l6 2z" fill="#6c2c92"/>
 <ellipse rx="24" ry="11" fill="#9b72b8" stroke="#6c2c92" stroke-width="2.5"/>
 <ellipse cx="6" cy="2" rx="7" ry="4" fill="#7b5799" stroke="#4a2270"/>
</g>
<text x="780" y="576" font-size="19" fill="#1b6db8" text-anchor="middle">glioblastoma</text>
<use xlink:href="#oli" transform="translate(782,642) scale(1.1)"/>
<text x="781" y="707" font-size="19" fill="#1b6db8" text-anchor="middle">Oligodendrocyte</text>
<use xlink:href="#ast" transform="translate(782,775) scale(1.05)"/>
<text x="782" y="848" font-size="19" fill="#1b6db8" text-anchor="middle">Astrocyte</text>
<path d="M780 898 C800 900 820 897 845 894" stroke="#e4d2e2" stroke-width="5" stroke-dasharray="5 1.5" fill="none"/>
<g stroke="#f3d43a" stroke-width="1.3" fill="none"><path d="M845 894 l10 -8 M845 894 l12 2 M845 894 l8 10"/></g>
<use xlink:href="#neu" transform="translate(755,893) scale(.95)"/>
<text x="790" y="962" font-size="19" fill="#1b6db8" text-anchor="middle">Neuron</text>

<g transform="translate(800,957)">
 <g stroke="#111" stroke-width="4.5" stroke-linecap="round"><path d="M0 -17 L0 -27 M-12 -14 L-19 -22 M12 -14 L19 -22 M-20 -6 L-28 -10 M20 -6 L28 -10"/></g>
 <ellipse rx="19" ry="12" fill="none" stroke="#f39a1e" stroke-width="6"/>
 <circle r="7.5" fill="url(#ion)"/>
 <path d="M-20 16 Q0 28 20 16" stroke="#111" stroke-width="5" fill="none"/>
</g>
<text x="818" y="989" font-size="21" fill="#111" stroke="#fff" stroke-width="3" paint-order="stroke" style="font-family:'Liberation Sans','Noto Sans CJK SC',sans-serif">山大视点</text>
<text x="790" y="999" font-size="12" fill="#777" stroke="#fff" stroke-width="2" paint-order="stroke">view.sdu.edu.cn</text>
</svg>
</body></html>
